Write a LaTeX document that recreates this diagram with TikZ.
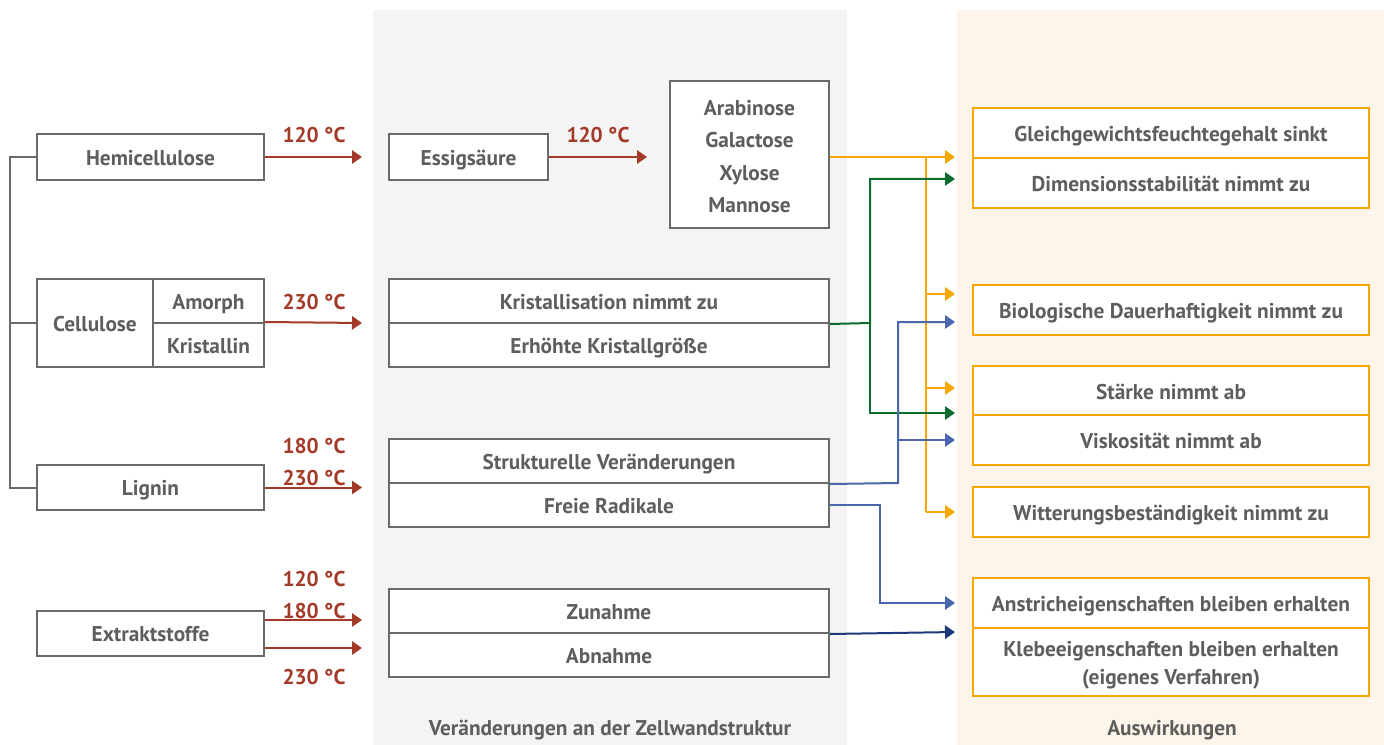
\documentclass[tikz,border=0pt]{standalone}
\usepackage{fontspec}
\setmainfont{PT Sans}[BoldFont={PT Sans Bold}]
\usetikzlibrary{arrows.meta}
\definecolor{txt}{HTML}{5E5E5E}
\definecolor{boxc}{HTML}{6A6A6A}
\definecolor{redc}{HTML}{A33A28}
\definecolor{orc}{HTML}{F6A800}
\definecolor{grc}{HTML}{0B6E2E}
\definecolor{blc}{HTML}{4A66AD}
\definecolor{nvc}{HTML}{1E3A7C}
\definecolor{graybg}{HTML}{F4F4F4}
\definecolor{orbg}{HTML}{FDF5E9}
\tikzset{
  lbl/.style={font=\fontsize{16pt}{19pt}\selectfont\bfseries, text=txt, inner sep=0pt, align=center, text height=12.7pt, text depth=0pt},
  gbox/.style={lbl, draw=boxc, line width=1.5pt, fill=white},
  obox/.style={lbl, draw=orc, line width=1.8pt, fill=white, minimum width=297pt},
  temp/.style={font=\fontsize{16pt}{19pt}\selectfont\bfseries, text=redc, inner sep=0pt, text height=12.7pt, text depth=0pt},
  rarr/.style={draw=redc, line width=1.5pt, -{Triangle[length=7.5pt,width=10pt]}},
  oline/.style={draw=orc, line width=1.8pt},
  oarr/.style={oline, -{Triangle[length=7.5pt,width=10pt]}},
  garr/.style={draw=grc, line width=1.5pt, -{Triangle[length=7.5pt,width=10pt]}},
  barr/.style={draw=blc, line width=1.5pt, -{Triangle[length=7.5pt,width=10pt]}},
  narr/.style={draw=nvc, line width=1.5pt, -{Triangle[length=7.5pt,width=10pt]}},
  tree/.style={draw=boxc, line width=1.5pt},
}
\begin{document}
\begin{tikzpicture}[x=0.75pt,y=-0.75pt]
\useasboundingbox (0,0) rectangle (1384,745);
\fill[white] (0,0) rectangle (1384,745);
\fill[graybg] (373,10) rectangle (847,745);
\fill[orbg] (957,10) rectangle (1384,745);

% left column
\node[gbox, minimum width=170.25pt, minimum height=34.5pt] (hemi) at (150.5,157) {Hemicellulose};
\node[gbox, minimum width=87pt, minimum height=66pt] (cell) at (95,323) {Cellulose};
\node[gbox, minimum width=83.25pt, minimum height=33pt] (amorph) at (208.5,301) {Amorph};
\node[gbox, minimum width=83.25pt, minimum height=33pt] (kristallin) at (208.5,345) {Kristallin};
\node[gbox, minimum width=170.25pt, minimum height=33.75pt] (lignin) at (150.5,487.5) {Lignin};
\node[gbox, minimum width=170.25pt, minimum height=33.75pt] (extr) at (150.5,633.5) {Extraktstoffe};

\draw[tree] (hemi.west) -- (10,157) -- (10,487.5) -- (lignin.west);
\draw[tree] (10,323) -- (cell.west);

% red arrows
\coordinate (m1) at (362,157);
\coordinate (m2) at (362,323);
\coordinate (m3) at (362,487.5);
\coordinate (m4) at (362,620);
\coordinate (m5) at (362,648);
\draw[rarr] (hemi.east) -- (m1);
\draw[rarr] (kristallin.north east) -- (m2);
\draw[rarr] (lignin.east) -- (m3);
\draw[rarr] (extr.east |- m4) -- (m4);
\draw[rarr] (extr.east |- m5) -- (m5);
\node[temp] (t1) at (314,134) {120 °C};
\node[temp] (t2) at (314,301) {230 °C};
\node[temp] (t3) at (314,445) {180 °C};
\node[temp] (t4) at (314,477) {230 °C};
\node[temp] (t5) at (314,578) {120 °C};
\node[temp] (t6) at (314,610) {180 °C};
\node[temp] (t7) at (314,676) {230 °C};

% middle column
\node[gbox, minimum width=119.25pt, minimum height=34.5pt] (essig) at (468.5,157) {Essigsäure};
\node[gbox, minimum width=119.25pt, minimum height=110.25pt] (zucker) at (749.5,154.5) {};
\node[lbl] (z1) at (749.5,107) {Arabinose};
\node[lbl] (z2) at (749.5,139) {Galactose};
\node[lbl] (z3) at (749.5,172) {Xylose};
\node[lbl] (z4) at (749.5,204) {Mannose};
\coordinate (m6) at (647,157);
\draw[rarr] (essig.east) -- (m6);
\node[temp] (t8) at (598,134) {120 °C};

\node[gbox, minimum width=330pt, minimum height=33pt] (k1) at (609,301) {Kristallisation nimmt zu};
\node[gbox, minimum width=330pt, minimum height=33pt] (k2) at (609,345) {Erhöhte Kristallgröße};
\node[gbox, minimum width=330pt, minimum height=33pt] (s1) at (609,461) {Strukturelle Veränderungen};
\node[gbox, minimum width=330pt, minimum height=33pt] (s2) at (609,505) {Freie Radikale};
\node[gbox, minimum width=330pt, minimum height=33pt] (e1) at (609,611) {Zunahme};
\node[gbox, minimum width=330pt, minimum height=33pt] (e2) at (609,655) {Abnahme};

% right column
\node[obox, minimum height=37.5pt] (r1a) at (1171,133) {Gleichgewichtsfeuchtegehalt sinkt};
\node[obox, minimum height=37.5pt] (r1b) at (1171,183) {Dimensionsstabilität nimmt zu};
\node[obox, minimum height=37.5pt] (r2) at (1171,310) {Biologische Dauerhaftigkeit nimmt zu};
\node[obox, minimum height=37.125pt] (r3a) at (1171,391) {Stärke nimmt ab};
\node[obox, minimum height=37.125pt] (r3b) at (1171,440) {Viskosität nimmt ab};
\node[obox, minimum height=37.5pt] (r4) at (1171,512) {Witterungsbeständigkeit nimmt zu};
\node[obox, minimum height=37.5pt] (r5a) at (1171,603) {Anstricheigenschaften bleiben erhalten};
\node[obox, minimum height=51pt] (r5b) at (1171,662) {};
\node[lbl] (r5b1) at (1171,648) {Klebeeigenschaften bleiben erhalten};
\node[lbl] (r5b2) at (1171,676) {(eigenes Verfahren)};

% panel captions
\node[lbl] (cap1) at (610,727) {Veränderungen an der Zellwandstruktur};
\node[lbl] (cap2) at (1172,727) {Auswirkungen};

% connectors
\coordinate (a1) at (955,157);
\coordinate (a2) at (955,179);
\coordinate (a3) at (955,294);
\coordinate (a4) at (955,322);
\coordinate (a5) at (955,388);
\coordinate (a6) at (955,413);
\coordinate (a7) at (955,440);
\coordinate (a8) at (955,512);
\coordinate (a9) at (955,603);
\coordinate (a10) at (955,632);

% orange
\draw[oarr] (zucker.east |- a1) -- (a1);
\draw[oline] (926,157) -- (926,512);
\draw[oarr] (926,294) -- (a3);
\draw[oarr] (926,388) -- (a5);
\draw[oarr] (926,512) -- (a8);
% green
\draw[garr] (k1.south east) -- (870,323) -- (870,179) -- (a2);
\draw[garr] (870,323) -- (870,413) -- (a6);
% blue
\draw[barr] (s1.south east) -- (898,483) -- (898,322) -- (a4);
\draw[barr] (898,440) -- (a7);
\draw[barr] (s2.east) -- (880,505) -- (880,603) -- (a9);
% navy
\draw[narr] (e1.south east) -- (a10);
\end{tikzpicture}
\end{document}
